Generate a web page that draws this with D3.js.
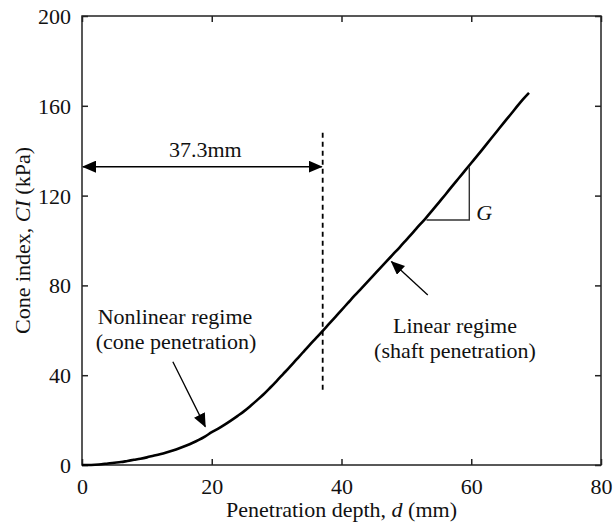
<!DOCTYPE html>
<html>
<head>
<meta charset="utf-8">
<script src="https://cdn.jsdelivr.net/npm/d3@7"></script>
<style>
  body { margin: 0; background: #fff; }
  svg text { font-family: 'Liberation Serif', 'Tinos', 'DejaVu Serif', serif !important; fill: #111; }
</style>
</head>
<body>
<svg id="chart" width="613" height="529"></svg>
<script>
// ---- data ----
const depth = [0,1,2,3,4,5,6,7,8,9,10,11,12,13,14,15,16,17,18,19,20,21,22,23,24,25,26,27,28,29,30,31,32,33,34,35,36,37,38,39,40,41,42,43,44,45,46,47,48,49,50,51,52,53,54,55,56,57,58,59,60,61,62,63,64,65,66,67,68,68.9];
const coneIndex = [0,0,0.1,0.3,0.7,1.0,1.3,1.8,2.3,2.8,3.4,4.1,4.8,5.6,6.5,7.5,8.6,9.8,11.2,12.8,14.6,16.2,18.0,19.9,21.9,24.0,26.4,28.9,31.5,34.4,37.4,40.5,43.6,46.8,50.0,53.2,56.3,59.4,62.6,65.8,69.0,72.2,75.4,78.5,81.6,84.7,87.8,90.9,94.0,97.1,100.3,103.5,106.8,110.0,113.4,116.9,120.4,124.0,127.5,131.0,134.5,138.0,141.6,145.2,148.8,152.4,155.9,159.5,163.0,165.8];
const xTicks = [0,20,40,60,80];
const yTicks = [0,40,80,120,160,200];
const offsetDepth = 37.1;          // dashed line (37.3mm label)
const offsetSpan = [32.4, 148];    // dashed line CI extent
const offsetArrowCI = 132.9;
const slopeTriangle = [[53.1,109.1],[59.7,109.1],[59.7,132.6]];
const nonlinearArrow = [[14.0,46.0],[19.0,17.1]];
const linearArrow = [[53.3,75.7],[47.7,90.6]];

// ---- layout ----
const svg = d3.select("#chart");
const mL = 82, mR = 601, mT = 16, mB = 465;
const x = d3.scaleLinear().domain([0,80]).range([mL,mR]);
const y = d3.scaleLinear().domain([0,200]).range([mB,mT]);
const axisColor = "#222";
const fs = 22;
const FONT = "'Liberation Serif', 'Tinos', 'DejaVu Serif', serif";

// markers
const defs = svg.append("defs");
defs.append("marker").attr("id","arr").attr("viewBox","0 0 14 12")
  .attr("refX",13).attr("refY",6).attr("markerWidth",14).attr("markerHeight",12)
  .attr("markerUnits","userSpaceOnUse").attr("orient","auto-start-reverse")
  .append("path").attr("d","M0,0 L14,6 L0,12 Z").attr("fill","#000");

// frame
svg.append("rect").attr("x",mL).attr("y",mT).attr("width",mR-mL).attr("height",mB-mT)
  .attr("fill","none").attr("stroke",axisColor).attr("stroke-width",1.5);

// axes with inward ticks
const xAxis = d3.axisBottom(x).tickValues(xTicks).tickSizeInner(-6).tickSizeOuter(0).tickPadding(13);
const gx = svg.append("g").attr("transform",`translate(0,${mB})`).call(xAxis);
const yAxis = d3.axisLeft(y).tickValues(yTicks).tickSizeInner(-6).tickSizeOuter(0).tickPadding(11);
const gy = svg.append("g").attr("transform",`translate(${mL},0)`).call(yAxis);
const gxt = svg.append("g").attr("transform",`translate(0,${mT})`).call(d3.axisTop(x).tickValues(xTicks).tickSizeInner(-6).tickSizeOuter(0).tickFormat(""));
const gyr = svg.append("g").attr("transform",`translate(${mR},0)`).call(d3.axisRight(y).tickValues(yTicks).tickSizeInner(-6).tickSizeOuter(0).tickFormat(""));
[gx,gy,gxt,gyr].forEach(g => {
  g.attr("font-family", FONT).attr("font-size", fs);
  g.select(".domain").remove();
  g.selectAll(".tick line").attr("stroke",axisColor).attr("stroke-width",1.5);
  g.selectAll(".tick text").attr("fill","#111");
});
gx.selectAll(".tick text").attr("dy","0.71em");
gy.selectAll(".tick text").attr("dy","0.34em");

function txt(xp, yp, anchor) {
  return svg.append("text").attr("x",xp).attr("y",yp).attr("text-anchor",anchor || "middle")
    .attr("font-family", FONT).attr("font-size", fs);
}

// axis titles
const xt = txt((mL+mR)/2, 517);
xt.append("tspan").text("Penetration depth, ");
xt.append("tspan").attr("font-style","italic").text("d");
xt.append("tspan").text(" (mm)");
const yt = svg.append("text").attr("transform",`translate(30,${(mT+mB)/2}) rotate(-90)`)
  .attr("text-anchor","middle").attr("font-family", FONT).attr("font-size", fs);
yt.append("tspan").text("Cone index, ");
yt.append("tspan").attr("font-style","italic").text("CI");
yt.append("tspan").text(" (kPa)");

// curve
const pts = depth.map((d,i)=>[d,coneIndex[i]]);
svg.append("path").datum(pts)
  .attr("d", d3.line().x(d=>x(d[0])).y(d=>y(d[1])).curve(d3.curveMonotoneX))
  .attr("fill","none").attr("stroke","#000").attr("stroke-width",2.6).attr("stroke-linejoin","round");

// dashed line
svg.append("line").attr("x1",x(offsetDepth)).attr("x2",x(offsetDepth))
  .attr("y1",y(offsetSpan[1])).attr("y2",y(offsetSpan[0]))
  .attr("stroke","#000").attr("stroke-width",1.8).attr("stroke-dasharray","5,4");

// double arrow
svg.append("line").attr("x1",x(0)+1).attr("x2",x(offsetDepth)-1)
  .attr("y1",y(offsetArrowCI)).attr("y2",y(offsetArrowCI))
  .attr("stroke","#000").attr("stroke-width",1.5)
  .attr("marker-start","url(#arr)").attr("marker-end","url(#arr)");
txt(x(offsetDepth/2)+3, 157).text("37.3mm");

// slope triangle
svg.append("path").datum(slopeTriangle)
  .attr("d", d3.line().x(d=>x(d[0])).y(d=>y(d[1])))
  .attr("fill","none").attr("stroke","#333").attr("stroke-width",1.4);
txt(x(slopeTriangle[1][0])+7, y(slopeTriangle[1][1]), "start").attr("font-style","italic").text("G");

// annotation arrows
[nonlinearArrow, linearArrow].forEach(a => {
  svg.append("line").attr("x1",x(a[0][0])).attr("y1",y(a[0][1]))
    .attr("x2",x(a[1][0])).attr("y2",y(a[1][1]))
    .attr("stroke","#000").attr("stroke-width",1.3).attr("marker-end","url(#arr)");
});
txt(175, 324).text("Nonlinear regime");
txt(176, 349).text("(cone penetration)");
txt(455, 333).text("Linear regime");
txt(455, 358).text("(shaft penetration)");
</script>
</body>
</html>
